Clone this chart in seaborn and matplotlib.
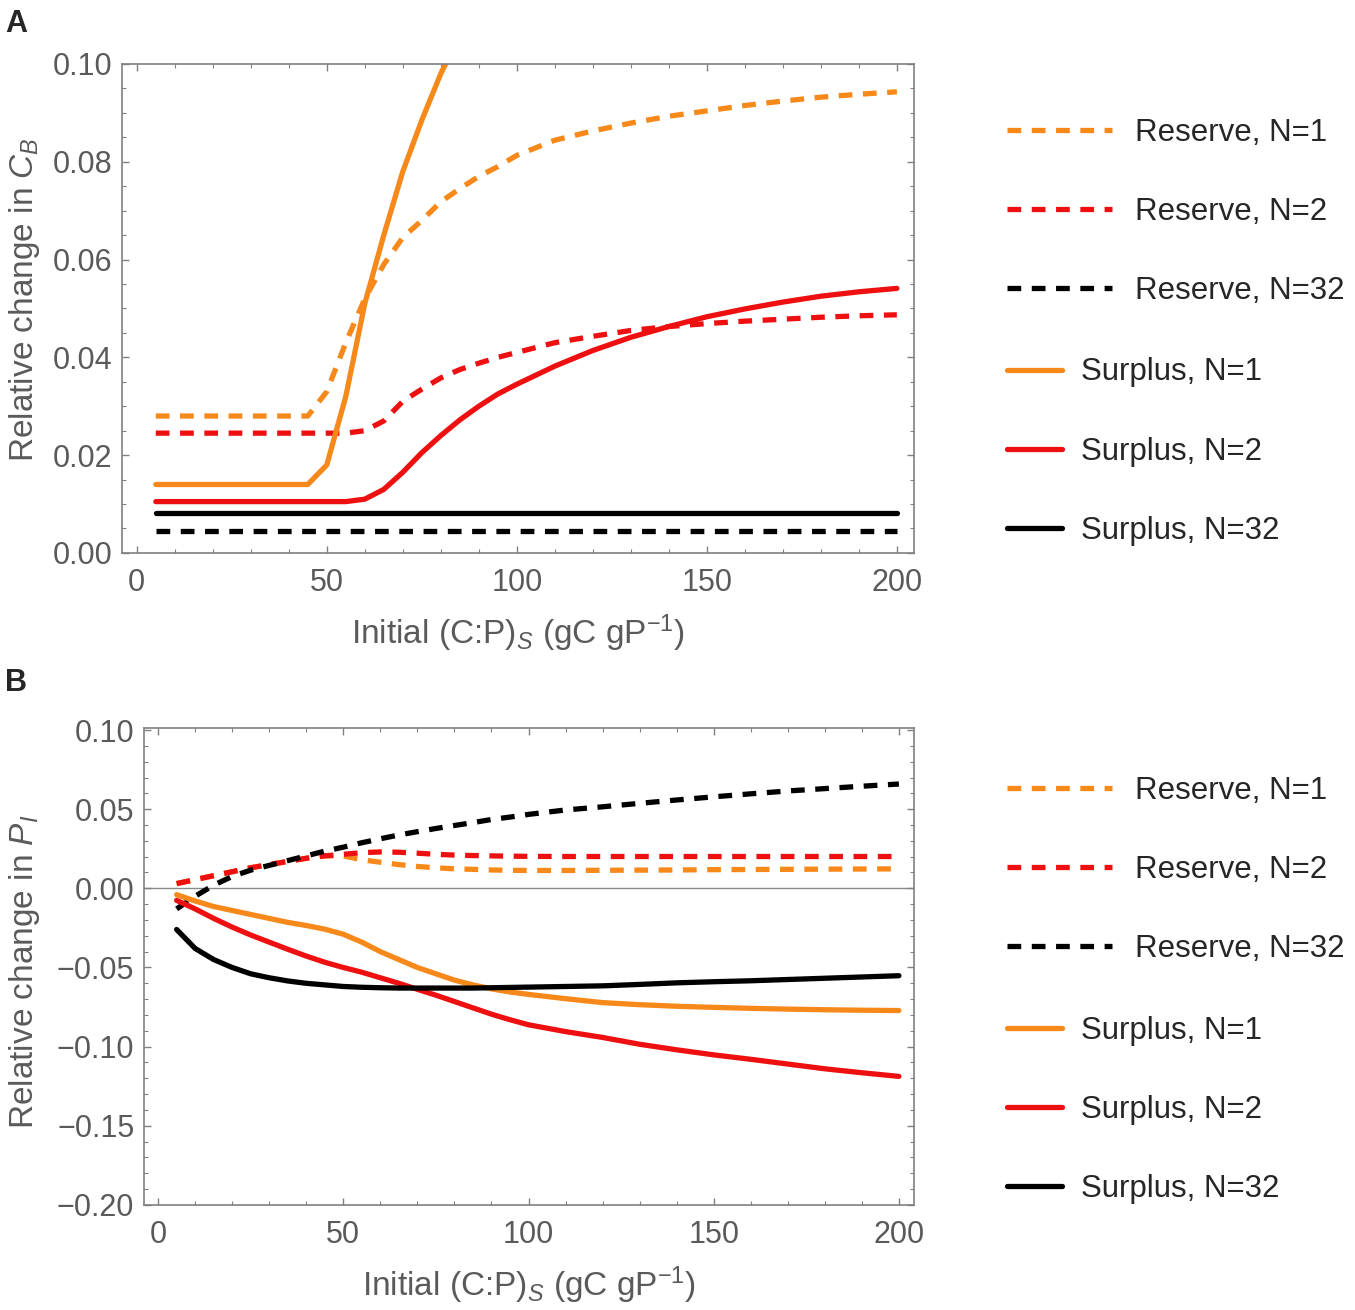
import numpy as np
import pandas as pd
import matplotlib
matplotlib.use('Agg')
import matplotlib.pyplot as plt
import seaborn as sns
from matplotlib.lines import Line2D
from matplotlib.ticker import MultipleLocator, FuncFormatter

# x grid of the curves
x_full = [5, 10, 15, 20, 25, 30, 35, 40, 45, 50, 55, 60, 65, 70, 75, 80, 85, 90, 95, 100,
          110, 120, 130, 140, 150, 160, 170, 180, 190, 200]

# panel A: relative change in C_B
a_res_n1 = [0.028, 0.028, 0.028, 0.028, 0.028, 0.028, 0.028, 0.028, 0.028, 0.033, 0.043, 0.052,
            0.059, 0.0645, 0.068, 0.0718, 0.0745, 0.077, 0.079, 0.0813,
            0.0844, 0.0863, 0.0879, 0.0893, 0.0904, 0.0915, 0.0924, 0.0932, 0.0938, 0.0943]
a_res_n2 = [0.0245, 0.0245, 0.0245, 0.0245, 0.0245, 0.0245, 0.0245, 0.0245, 0.0245, 0.0245, 0.0245, 0.025,
            0.027, 0.031, 0.0335, 0.0358, 0.0375, 0.0388, 0.04, 0.041,
            0.043, 0.0443, 0.0455, 0.0463, 0.0469, 0.0474, 0.0478, 0.0482, 0.0485, 0.0487]
a_res_n32 = [0.0045] * 30
a_sur_n1_x = [5, 10, 15, 20, 25, 30, 35, 40, 45, 50, 55, 60, 65, 70, 75, 80, 85]
a_sur_n1 = [0.014, 0.014, 0.014, 0.014, 0.014, 0.014, 0.014, 0.014, 0.014, 0.018, 0.032, 0.051,
            0.065, 0.078, 0.0885, 0.098, 0.106]
a_sur_n2 = [0.0105, 0.0105, 0.0105, 0.0105, 0.0105, 0.0105, 0.0105, 0.0105, 0.0105, 0.0105, 0.0105, 0.011,
            0.013, 0.0165, 0.0205, 0.024, 0.0272, 0.0300, 0.0325, 0.0345,
            0.0382, 0.0414, 0.0441, 0.0463, 0.0483, 0.0499, 0.0513, 0.0525, 0.0534, 0.0541]
a_sur_n32 = [0.0082] * 30

# panel B: relative change in P_I
b_res_n1 = [0.003, 0.0055, 0.008, 0.0105, 0.013, 0.015, 0.017, 0.019, 0.0205, 0.0205, 0.018, 0.0165,
            0.015, 0.0138, 0.013, 0.0123, 0.012, 0.0116, 0.0114, 0.0113,
            0.0113, 0.0114, 0.0115, 0.0116, 0.0118, 0.0119, 0.012, 0.0121, 0.0122, 0.0123]
b_res_n2 = [0.003, 0.0055, 0.008, 0.0105, 0.013, 0.015, 0.017, 0.019, 0.0205, 0.0215, 0.0225, 0.023,
            0.0228, 0.0222, 0.0215, 0.021, 0.0207, 0.0205, 0.0203, 0.0202,
            0.0201, 0.0201, 0.0201, 0.0201, 0.0201, 0.0201, 0.0201, 0.0201, 0.0201, 0.0201]
b_res_n32 = [-0.013, -0.005, 0.002, 0.0075, 0.0115, 0.0145, 0.0175, 0.0205, 0.0235, 0.026, 0.0288, 0.0313,
             0.0337, 0.0358, 0.0378, 0.0397, 0.0415, 0.0435, 0.045, 0.0467,
             0.0495, 0.0515, 0.0537, 0.0558, 0.0578, 0.0597, 0.0615, 0.063, 0.0645, 0.0659]
b_sur_n1 = [-0.004, -0.008, -0.0115, -0.014, -0.0165, -0.019, -0.0215, -0.0235, -0.0258, -0.029, -0.034, -0.040,
            -0.045, -0.050, -0.054, -0.058, -0.061, -0.0635, -0.0655, -0.067,
            -0.0697, -0.0722, -0.0735, -0.0745, -0.0752, -0.0758, -0.0763, -0.0767, -0.077, -0.0772]
b_sur_n2 = [-0.0076, -0.013, -0.019, -0.0245, -0.0295, -0.034, -0.0385, -0.0428, -0.0467, -0.050, -0.053, -0.0565,
            -0.060, -0.0638, -0.0675, -0.0715, -0.0755, -0.0795, -0.083, -0.0862,
            -0.0905, -0.0942, -0.0985, -0.102, -0.1052, -0.108, -0.111, -0.114, -0.1165, -0.1188]
b_sur_n32 = [-0.026, -0.038, -0.045, -0.050, -0.054, -0.0565, -0.0585, -0.060, -0.061, -0.062, -0.0625, -0.0628,
             -0.063, -0.063, -0.063, -0.063, -0.063, -0.0628, -0.0626, -0.0624,
             -0.062, -0.0616, -0.0607, -0.0597, -0.059, -0.0584, -0.0576, -0.0568, -0.056, -0.0552]

labels = ['Reserve, N=1', 'Reserve, N=2', 'Reserve, N=32',
          'Surplus, N=1', 'Surplus, N=2', 'Surplus, N=32']

orange = '#F7891B'
red = '#EE1010'
black = '#000000'
palette = dict(zip(labels, [orange, red, black, orange, red, black]))
dash = (2.6, 2.0)
dashes = dict(zip(labels, [dash, dash, dash, '', '', '']))


def long_df(xs, ys):
    parts = []
    for lab, x, y in zip(labels, xs, ys):
        parts.append(pd.DataFrame({'x': x, 'y': y, 'series': lab}))
    return pd.concat(parts, ignore_index=True)


df_a = long_df([x_full, x_full, x_full, a_sur_n1_x, x_full, x_full],
               [a_res_n1, a_res_n2, a_res_n32, a_sur_n1, a_sur_n2, a_sur_n32])
df_b = long_df([x_full] * 6,
               [b_res_n1, b_res_n2, b_res_n32, b_sur_n1, b_sur_n2, b_sur_n32])

sns.set_style('ticks')
plt.rcParams['font.family'] = ['Liberation Sans', 'DejaVu Sans']
plt.rcParams['mathtext.fontset'] = 'custom'
plt.rcParams['mathtext.rm'] = 'Liberation Sans'
plt.rcParams['mathtext.it'] = 'Liberation Sans:italic'

gray = '#5a5a5a'
lw = 3.8

fig = plt.figure(figsize=(13.55, 13.10), dpi=100)
ax_a = fig.add_axes([0.0900, 0.5779, 0.5845, 0.3733])
ax_b = fig.add_axes([0.1063, 0.0802, 0.5683, 0.3641])

for ax, df in [(ax_a, df_a), (ax_b, df_b)]:
    sns.lineplot(data=df, x='x', y='y', hue='series', style='series', palette=palette,
                 dashes=dashes, linewidth=lw, estimator=None, sort=False, legend=False, ax=ax)

ax_b.axhline(0, color='#8a8a8a', lw=1.0, zorder=0)

ax_a.set_xlim(-3.9, 204.5)
ax_a.set_ylim(0, 0.1)
ax_a.yaxis.set_major_locator(MultipleLocator(0.02))
ax_a.yaxis.set_minor_locator(MultipleLocator(0.005))
ax_a.set_ylabel('Relative change in $C_B$')
ax_a.yaxis.set_label_coords(-0.101, 0.518)

ax_b.set_xlim(-3.8, 204.1)
ax_b.set_ylim(-0.2, 0.1013)
ax_b.yaxis.set_major_locator(MultipleLocator(0.05))
ax_b.yaxis.set_minor_locator(MultipleLocator(0.01))
ax_b.set_ylabel('Relative change in $P_I$')
ax_b.yaxis.set_label_coords(-0.132, 0.488)

fmt = FuncFormatter(lambda v, pos: ('%.2f' % v).replace('-', '\u2212'))

for ax in (ax_a, ax_b):
    ax.xaxis.set_major_locator(MultipleLocator(50))
    ax.xaxis.set_minor_locator(MultipleLocator(10))
    ax.yaxis.set_major_formatter(fmt)
    ax.set_xlabel('Initial (C:P)$_{S}$ (gC gP$^{-1}$)', fontsize=24, color=gray, labelpad=10)
    ax.yaxis.label.set_fontsize(24)
    ax.yaxis.label.set_color(gray)
    for s in ax.spines.values():
        s.set_color('#808080')
        s.set_linewidth(1.2)
    ax.tick_params(which='both', direction='in', top=True, right=True, colors='#808080',
                   labelcolor=gray, labelsize=22)
    ax.tick_params(which='major', length=5, width=1.0)
    ax.tick_params(which='minor', length=3, width=0.8)
    ax.tick_params(axis='x', which='major', pad=11)
    ax.tick_params(axis='y', which='major', pad=7)

# legends: reserve entries have longer keys than surplus entries
for y_res, y_sur in [(0.9102, 0.7271), (0.408, 0.2248)]:
    res_handles = [Line2D([], [], color=palette[l], lw=lw, dashes=dash) for l in labels[:3]]
    sur_handles = [Line2D([], [], color=palette[l], lw=lw) for l in labels[3:]]
    kw = dict(frameon=False, loc='upper left', labelspacing=1.57, borderaxespad=0, borderpad=0,
              prop={'family': ['Liberation Sans', 'DejaVu Sans'], 'size': 22.5})
    fig.legend(res_handles, labels[:3], bbox_to_anchor=(1007 / 1355, y_res),
               handlelength=3.35, handletextpad=0.76, **kw)
    fig.legend(sur_handles, labels[3:], bbox_to_anchor=(1007 / 1355, y_sur),
               handlelength=1.76, handletextpad=0.6, **kw)

fig.text(0.004, 0.993, 'A', fontsize=22, fontweight='bold', va='top')
fig.text(0.004, 0.490, 'B', fontsize=22, fontweight='bold', va='top')

fig.savefig('out.png', dpi=100)
